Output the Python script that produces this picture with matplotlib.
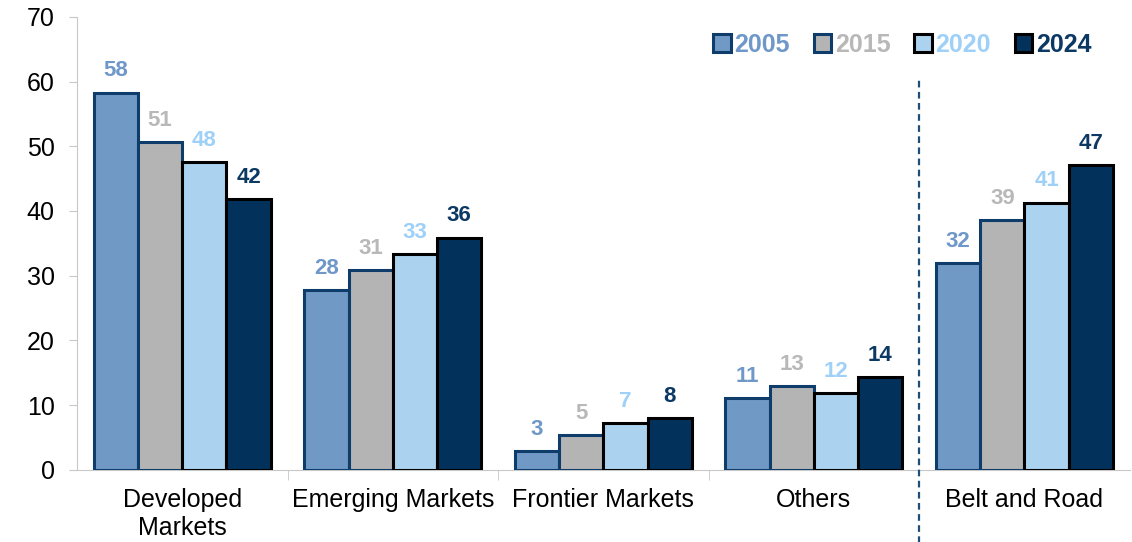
import numpy as np
import matplotlib
matplotlib.use("Agg")
import matplotlib.pyplot as plt
from matplotlib.patches import Patch

plt.rcParams['font.family'] = ['Liberation Sans', 'DejaVu Sans']

categories = ["Developed\nMarkets", "Emerging Markets", "Frontier Markets", "Others", "Belt and Road"]
years = ["2005", "2015", "2020", "2024"]
v2005 = [58.3, 27.8, 2.9, 11.1, 32.0]
v2015 = [50.7, 30.9, 5.4, 13.0, 38.6]
v2020 = [47.6, 33.4, 7.3, 11.9, 41.3]
v2024 = [41.9, 35.9, 8.0, 14.4, 47.1]
series = [v2005, v2015, v2020, v2024]

fills = ["#7199c5", "#b4b4b4", "#abd2ef", "#02325c"]
edges = ["#0f3d6b", "#0f3d6b", "#000000", "#000000"]
text_cols = ["#6f98c8", "#b8b8b8", "#9fd0f8", "#0c3864"]

fig = plt.figure(figsize=(11.32, 5.42), dpi=100)
ax = fig.add_axes([0.068, 0.133, 0.93, 0.836])

x = np.arange(len(categories))
w = 0.21
for i, vals in enumerate(series):
    pos = x + (i - 1.5) * w
    ax.bar(pos, vals, width=w, color=fills[i], edgecolor=edges[i], linewidth=2.2, zorder=3)
    for px, v in zip(pos, vals):
        ax.annotate(f"{round(v)}", (px, v), xytext=(0, 8), textcoords="offset points",
                    ha="center", va="bottom", fontsize=16, fontweight="bold", color=text_cols[i])

ax.set_xlim(-0.5, 4.5)
ax.set_ylim(0, 70)
ax.set_yticks(range(0, 71, 10))
ax.tick_params(axis="y", labelsize=18, length=6, color="#c8c8c8", pad=10)
ax.set_xticks(x)
ax.set_xticklabels(categories, fontsize=18, linespacing=1.2)
ax.tick_params(axis="x", length=0, pad=13)
ax.set_xticks([0.5, 1.5, 2.5], minor=True)
ax.tick_params(axis="x", which="minor", length=7, color="#c8c8c8")

for s in ["top", "right"]:
    ax.spines[s].set_visible(False)
ax.spines["left"].set_color("#c8c8c8")
ax.spines["bottom"].set_color("#c8c8c8")

# dashed divider before Belt and Road
ax.plot([3.5, 3.5], [-11.5, 60.6], ls=(0, (3, 2)), color="#1f4e79", lw=1.6, clip_on=False, zorder=4)

handles = [Patch(facecolor=fills[i], edgecolor=edges[i], linewidth=2.2) for i in range(4)]
leg = ax.legend(handles, years, loc="upper right", bbox_to_anchor=(0.985, 1.015), ncol=4, frameon=False,
                handlelength=0.7, handleheight=0.7, handletextpad=0.15, columnspacing=0.95,
                prop={"size": 18, "weight": "bold"})
for t, c in zip(leg.get_texts(), text_cols):
    t.set_color(c)

fig.savefig("out.png", dpi=100)
